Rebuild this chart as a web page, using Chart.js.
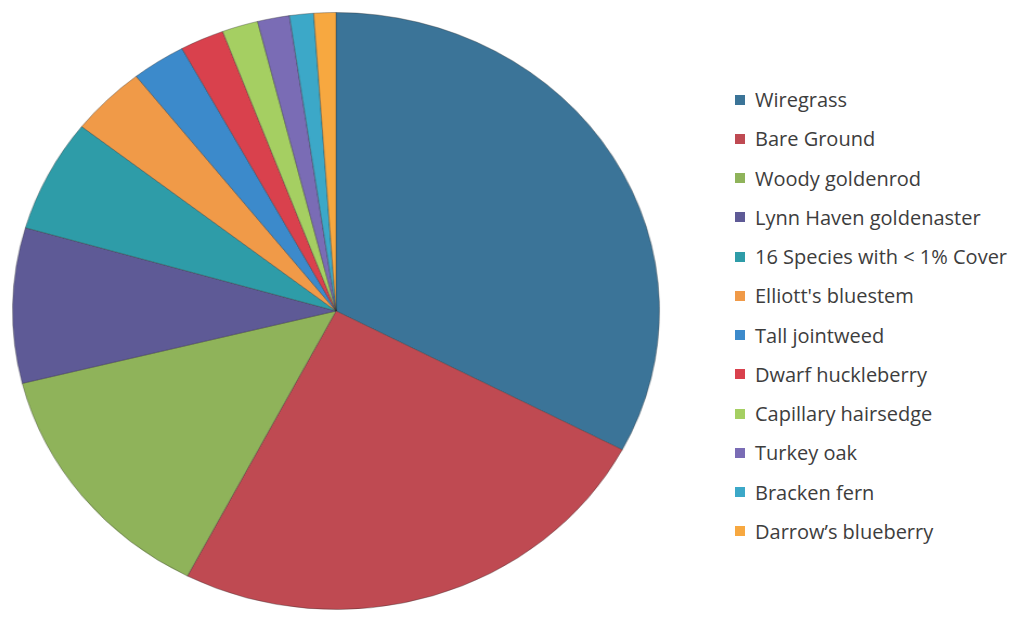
<!DOCTYPE html>
<html>
<head>
<meta charset="utf-8">
<script src="https://cdn.jsdelivr.net/npm/chart.js@4"></script>
<style>
  html, body { margin: 0; padding: 0; background: #fff; }
  #page { position: relative; width: 1011px; height: 621px; overflow: hidden; }
  /* the picture is slightly stretched sideways, so the pie is too */
  #wrap { position: absolute; left: 26px; top: 0; width: 620px; height: 621px;
          transform: scaleX(1.0836); transform-origin: 310px 311px; }
  #legend { position: absolute; left: 735px; top: 80px; margin: 0; padding: 0;
            list-style: none; font-family: "Open Sans", sans-serif; font-size: 20px;
            color: #3d3d3d; }
  #legend li { height: 39.25px; display: flex; align-items: center; white-space: nowrap; }
  #legend span.box { width: 10px; height: 10px; margin-right: 10px; flex: none; }
</style>
</head>
<body>
<div id="page">
  <div id="wrap"><canvas id="coverChart"></canvas></div>
  <ul id="legend"></ul>
</div>
<script>
// Percent cover by species
const species = [
  "Wiregrass", "Bare Ground", "Woody goldenrod", "Lynn Haven goldenaster",
  "16 Species with < 1% Cover", "Elliott's bluestem", "Tall jointweed",
  "Dwarf huckleberry", "Capillary hairsedge", "Turkey oak", "Bracken fern",
  "Darrow\u2019s blueberry"
];
const cover = [32.7, 24.9, 13.5, 8.4, 6.1, 3.8, 2.7, 2.2, 1.8, 1.6, 1.2, 1.1];
const sliceColors = [
  "#3b7498", "#bf4a52", "#8fb35a", "#5e5a96", "#2e9ca8", "#f09a48",
  "#3c8acb", "#d9414d", "#a5cf62", "#7a6cb5", "#3ca8c8", "#f7a840"
];

const ctx = document.getElementById("coverChart");
const chart = new Chart(ctx, {
  type: "pie",
  data: {
    labels: species,
    datasets: [
      {
        data: cover,
        backgroundColor: sliceColors,
        borderColor: "rgba(40,40,40,0.35)",
        borderWidth: 1,
      },
    ],
  },
  options: {
    responsive: true,
    maintainAspectRatio: false,
    animation: false,
    layout: { padding: { top: 12, bottom: 11 } },
    plugins: {
      tooltip: { enabled: false },
      legend: { display: false },
    },
  },
});

// legend built from the chart's own label items
const legendEl = document.getElementById("legend");
chart.options.plugins.legend.labels.generateLabels(chart).forEach((item) => {
  const li = document.createElement("li");
  const box = document.createElement("span");
  box.className = "box";
  box.style.background = item.fillStyle;
  li.appendChild(box);
  li.appendChild(document.createTextNode(item.text));
  legendEl.appendChild(li);
});
</script>
</body>
</html>
